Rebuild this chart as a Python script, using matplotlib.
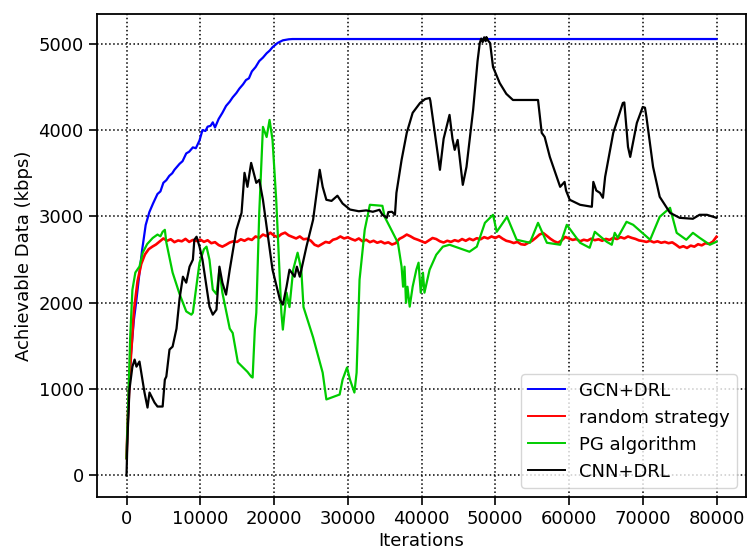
import matplotlib
matplotlib.use("Agg")
import matplotlib.pyplot as plt

# ---- GCN+DRL ----
gcn_x = [0, 300, 600, 1000, 1300, 1700, 2100, 2600, 3100, 3600, 4200, 4600, 5000,
         5400, 5800, 6200, 6500, 7200, 7600, 8100, 8500, 9000, 9400, 9900, 10300,
         10700, 11000, 11400, 11700, 12000, 12500, 13000, 13500, 14000, 14400, 14900,
         15300, 15800, 16200, 16600, 17000, 17500, 18000, 18500, 19000, 19400, 19800,
         20500, 21200, 22000, 22500, 80000]
gcn_y = [200, 900, 1400, 1800, 2000, 2300, 2600, 2900, 3050, 3150, 3260, 3290, 3390,
         3420, 3470, 3500, 3540, 3610, 3640, 3730, 3750, 3800, 3790, 3880, 4000,
         3990, 4040, 4050, 4090, 4030, 4130, 4200, 4280, 4330, 4380, 4430,
         4480, 4530, 4580, 4600, 4680, 4730, 4800, 4840, 4890, 4920, 4960,
         5010, 5040, 5052, 5055, 5055]

# ---- random strategy ----
rand_x_start = [0, 200, 500, 1000, 1500, 2000, 2500, 3000, 3500, 4000, 4500]
rand_y_start = [200, 700, 1250, 1900, 2250, 2450, 2560, 2620, 2650, 2675, 2710]
rand_step_x0 = 5000
rand_step = 500
rand_y_tail = [
    2745, 2718, 2736, 2702, 2722, 2712, 2740, 2705, 2728, 2715,
    2732, 2706, 2724, 2690, 2702, 2668, 2650, 2672, 2698, 2712,
    2705, 2735, 2718, 2742, 2728, 2768, 2752, 2790, 2772, 2812,
    2778, 2760, 2795, 2812, 2780, 2762, 2745, 2768, 2735, 2742,
    2718, 2672, 2655, 2680, 2705, 2695, 2730, 2742, 2768, 2745,
    2758, 2738, 2722, 2745, 2712, 2730, 2702, 2718, 2695, 2710,
    2688, 2700, 2675, 2690, 2740, 2762, 2790, 2770, 2745, 2730,
    2712, 2695, 2722, 2750, 2738, 2712, 2698, 2718, 2705, 2725,
    2712, 2738, 2718, 2742, 2725, 2748, 2735, 2760, 2745, 2768,
    2750, 2772, 2742, 2718, 2708, 2692, 2705, 2678, 2672, 2695,
    2718, 2752, 2790, 2808, 2775, 2740, 2712, 2695, 2722, 2762,
    2745, 2728, 2738, 2712, 2730, 2720, 2742, 2725, 2735, 2718,
    2740, 2728, 2752, 2738, 2760, 2745, 2768, 2752, 2740, 2722,
    2715, 2705, 2718, 2700, 2712, 2695, 2705, 2690, 2700, 2672,
    2640, 2655, 2635, 2662, 2650, 2678, 2665, 2690, 2682, 2708,
    2765]

# ---- PG algorithm ----
pg_x = [0, 250, 500, 800, 1200, 1760, 2200, 2800, 3550, 4200, 4600, 4900, 5200, 5400,
        6250, 7200, 8100, 8800, 9000, 9900, 10500, 10850, 11250, 11700, 12200, 12600,
        13000, 14000, 14400, 15100, 16400, 16900, 17100, 17400, 17600, 18000, 18500,
        19000, 19400, 19800, 20300, 21000, 21200, 21700, 22100, 22600, 23200, 23700,
        24000, 25300, 26600, 27100, 28900, 29300, 29900, 30300, 30900, 31200, 31600,
        32300, 33000, 34700, 35000, 35700, 36800, 37300, 37500, 37700, 37900, 38100,
        38400, 38800, 39300, 39600, 39900, 40200, 40400, 41100, 42000, 42900, 43800,
        46500, 47500, 48600, 49700, 50200, 51600, 52900, 54700, 55800, 57000, 58800,
        59700, 61500, 62800, 63500, 65100, 65800, 66200, 66600, 67800, 68700, 71000,
        72300, 73700, 74600, 75900, 76800, 77700, 79100, 80000]
pg_y = [200, 900, 1600, 2150, 2350, 2420, 2580, 2680, 2750, 2790, 2770, 2822, 2845, 2700,
        2350, 2100, 1900, 1862, 1885, 2464, 2620, 2650, 2499, 2152, 2100, 2383,
        2117, 1700, 1650, 1310, 1200, 1145, 1134, 1689, 1885, 3042, 4037,
        3920, 4118, 3886, 3193, 1885, 1689, 2117, 1950, 2383, 2580, 2383,
        1950, 1600, 1190, 880, 937, 1110, 1250, 1110, 960, 1190, 2267,
        2845, 3135, 3123, 2996, 2880, 2695, 2418, 2186, 2418, 2000, 2186,
        1955, 2186, 2383, 2464, 2117, 2348, 2117, 2383, 2556, 2650, 2672,
        2591, 2650, 2926, 3019, 2822, 2996, 2730, 2695, 2926, 2695, 2672,
        2903, 2695, 2637, 2822, 2707, 2672, 2810, 2753, 2938, 2903, 2730,
        2996, 3100, 2810, 2730, 2810, 2753, 2672, 2707]

# ---- CNN+DRL ----
cnn_x = [0, 140, 400, 800, 1100, 1350, 1760, 2000, 2440, 2850, 3120, 3800, 4200, 4900,
         5200, 5400, 5830, 6250, 6780, 7200, 7650, 8100, 8550, 9000, 9200, 9500, 9900,
         10300, 10850, 11250, 11700, 12200, 12600, 13000, 13500, 14000, 14900, 15600,
         16000, 16400, 16900, 17600, 18000, 18500, 19000, 19800, 20800, 21200, 21700,
         22100, 22800, 23100, 23500, 24400, 25300, 26200, 26600, 27100, 27800, 28600,
         29300, 30300, 31500, 32500, 33400, 34300, 34700, 35300, 35500, 36000, 36400,
         36600, 37300, 38000, 38800, 39800, 40500, 41100, 41200, 42500, 43000, 43800,
         44200, 44500, 44900, 45600, 46100, 47000, 47600, 47900, 48100, 48300, 48500,
         48700, 48800, 49000, 49300, 49700, 50600, 51500, 52400, 55800, 56300, 56700,
         57400, 58800, 59400, 59600, 60100, 61500, 63100, 63300, 63700, 64200, 64600,
         64900, 66000, 67300, 67500, 68000, 68300, 69200, 70000, 70300, 70500, 71400,
         72300, 73700, 75000, 76800, 77700, 78700, 80000]
cnn_y = [0, 450, 995, 1260, 1342, 1260, 1319, 1190, 960, 786, 960, 844, 798, 798,
         1110, 1145, 1458, 1492, 1700, 2050, 2302, 2233, 2418, 2499, 2730, 2765, 2650,
         2499, 2186, 1955, 1862, 1920, 2418, 2233, 2094, 2383, 2845, 3042,
         3505, 3343, 3620, 3389, 3424, 3193, 2880, 2383, 2036, 1978, 2186,
         2383, 2302, 2418, 2302, 2650, 2961, 3540, 3343, 3193, 3180, 3240,
         3150, 3080, 3060, 3070, 3054, 3077, 3019, 2984, 3050, 3054, 3019,
         3273, 3655, 3968, 4200, 4314, 4360, 4372, 4340, 3540, 3900, 4176,
         3900, 3771, 3886, 3366, 3574, 4234, 4800, 5008, 5060, 5020, 5075,
         5030, 5078, 5040, 5008, 4731, 4546, 4420, 4349, 4349, 3968, 3921,
         3690, 3343, 3400, 3300, 3193, 3135, 3112, 3400, 3300, 3273, 3216,
         3459, 3968, 4314, 4320, 3806, 3690, 4083, 4268, 4260, 4153, 3574,
         3227, 3042, 2984, 2973, 3019, 3019, 2984]

x_ticks = [0, 10000, 20000, 30000, 40000, 50000, 60000, 70000, 80000]
y_ticks = [0, 1000, 2000, 3000, 4000, 5000]

rand_x = rand_x_start + [rand_step_x0 + i * rand_step for i in range(len(rand_y_tail))]
rand_y = rand_y_start + rand_y_tail

plt.rcParams['font.family'] = ['DejaVu Sans']
fig = plt.figure(figsize=(7.47, 5.51), dpi=100)
ax = fig.add_axes([97 / 747, 54 / 551, 649 / 747, 483 / 551])

ax.plot(gcn_x, gcn_y, color='#0000ff', lw=1.6, label='GCN+DRL')
ax.plot(rand_x, rand_y, color='#ff0000', lw=1.9, label='random strategy')
ax.plot(pg_x, pg_y, color='#00cc00', lw=1.6, label='PG algorithm')
ax.plot(cnn_x, cnn_y, color='black', lw=1.6, label='CNN+DRL')

ax.set_xlim(-4000, 84000)
ax.set_ylim(-250, 5345)
ax.set_xticks(x_ticks)
ax.set_yticks(y_ticks)
ax.tick_params(labelsize=13, length=6, width=1.2)
for s in ax.spines.values():
    s.set_linewidth(1.3)
ax.grid(True, linestyle=':', color='black', linewidth=1.1)
ax.set_xlabel('Iterations', fontsize=13, labelpad=3)
ax.set_ylabel('Achievable Data (kbps)', fontsize=13)
leg = ax.legend(loc='lower right', fontsize=13, handlelength=2.0)
for line in leg.get_lines():
    line.set_linewidth(1.4)

fig.savefig('out.png', dpi=100)
